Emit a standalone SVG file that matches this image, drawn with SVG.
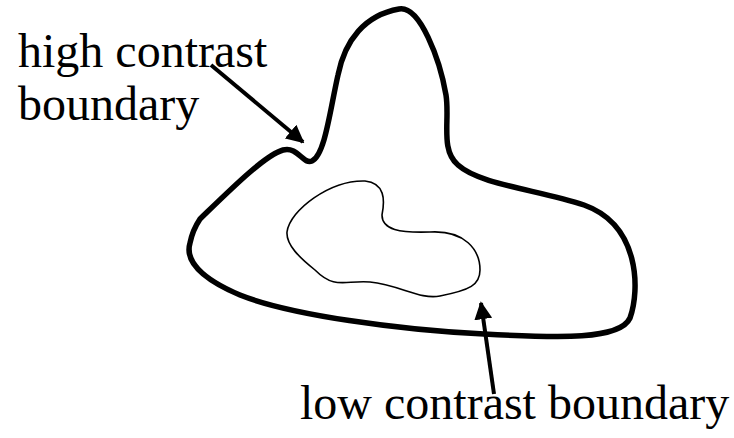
<svg xmlns="http://www.w3.org/2000/svg" width="734" height="438" viewBox="0 0 734 438">
<style>
.lbl{font-family:'Liberation Serif','DejaVu Serif',serif;font-size:48px;fill:#000}
.outer{fill:none;stroke:#000;stroke-width:5.5;stroke-linejoin:round}
.inner{fill:none;stroke:#000;stroke-width:1.6}
.arr{fill:none;stroke:#000;stroke-width:4;marker-end:url(#ah)}
</style>
<defs>
<marker id="ah" viewBox="0 0 10 10" refX="9" refY="5" markerWidth="4.5" markerHeight="4.5" orient="auto" markerUnits="strokeWidth">
<path d="M0,0 L10,5 L0,10 Z" fill="#000"/>
</marker>
</defs>
<g id="outer-region">
<path class="outer" d="M 200,219 C 230,190 265,155 283,150 C 298,146 303,165 312,161 C 325,155 330,110 338,75 C 345,40 365,15 399,9 C 420,5 440,60 446,95 C 450,120 440,150 458,165 C 480,185 540,190 584,205 C 640,225 640,290 630,318 C 620,340 560,338 484,334 C 400,330 290,315 240,295 C 200,278 185,260 190,243 C 192,233 196,225 200,219 Z"/>
</g>
<g id="inner-region">
<path class="inner" d="M 287,232 C 290,210 330,180 365,181 C 385,183 385,200 382,215 C 382,230 400,233 430,232 C 465,230 480,250 480,270 C 480,285 470,290 440,296 C 420,300 400,285 370,282 C 345,280 335,290 315,270 C 300,258 286,245 287,232 Z"/>
</g>
<g id="label-high">
<text class="lbl" x="18" y="67" font-family="Liberation Serif">high contrast</text>
<text class="lbl" x="18" y="120" font-family="Liberation Serif">boundary</text>
</g>
<g id="label-low">
<text class="lbl" x="300" y="419" font-family="Liberation Serif">low contrast boundary</text>
</g>
<g id="connectors">
<line class="arr" x1="211" y1="65" x2="303" y2="142"/>
<line class="arr" x1="494" y1="394" x2="481" y2="303"/>
</g>
</svg>
